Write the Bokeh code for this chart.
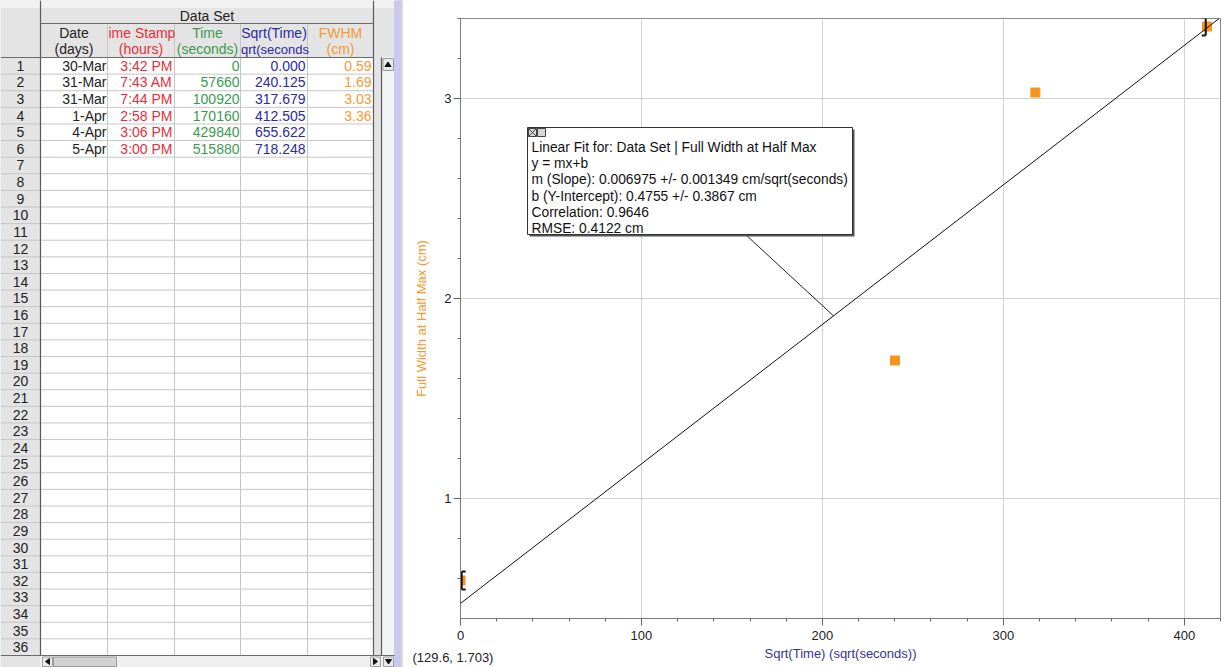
from bokeh.plotting import figure
from bokeh.layouts import row
from bokeh.models import Range1d, SingleIntervalTicker, Slope, Label
from bokeh.core.properties import value
from bokeh.embed import file_html
from bokeh.resources import INLINE

# ---- data set ----
dates = ["30-Mar", "31-Mar", "31-Mar", "1-Apr", "4-Apr", "5-Apr"]
stamps = ["3:42 PM", "7:43 AM", "7:44 PM", "2:58 PM", "3:06 PM", "3:00 PM"]
times_s = [0, 57660, 100920, 170160, 429840, 515880]
sqrt_times = [0.000, 240.125, 317.679, 412.505, 655.622, 718.248]
fwhm_cm = [0.59, 1.69, 3.03, 3.36]

# ---- linear fit results ----
fit_slope, fit_slope_err = 0.006975, 0.001349
fit_intercept, fit_intercept_err = 0.4755, 0.3867
fit_corr, fit_rmse = 0.9646, 0.4122
cursor_xy = (129.6, 1.703)

n_rows = 36
FONT = value("Liberation Sans")
RED, GREEN, BLUE, ORANGE = "#e3303c", "#3c9a50", "#2b2b9c", "#f29b35"

# =================== spreadsheet panel ===================
TW, H = 403, 667
t = figure(width=TW, height=H, x_range=Range1d(0, TW), y_range=Range1d(H, 0),
           output_backend="svg", toolbar_location=None, min_border=0, frame_align=False,
           x_axis_location=None, y_axis_location=None, outline_line_color=None)
t.grid.grid_line_color = None
t.background_fill_color = "#e4e4e4"
t.border_fill_color = "#e4e4e4"

COLS = [40, 107, 174, 240, 307, 373]
ROW_TOP, ROW_BOT = 57, 655
RH = (ROW_BOT - ROW_TOP) / n_rows

# backgrounds
t.quad(left=[0], right=[394], top=[0], bottom=[7], color="#f1f1f1")
t.quad(left=[COLS[0]], right=[COLS[-1]], top=[ROW_TOP], bottom=[ROW_BOT], color="#ffffff")
t.quad(left=[381], right=[394], top=[ROW_TOP], bottom=[ROW_BOT], color="#f3f3f3")
t.quad(left=[382.5], right=[393], top=[58], bottom=[70], fill_color="#e9e9e9", line_color="#9a9a9a")
t.quad(left=[40], right=[394], top=[ROW_BOT], bottom=[H], color="#f0f0f0")
t.quad(left=[42], right=[52], top=[656.5], bottom=[666], fill_color="#e9e9e9", line_color="#a0a0a0")
t.quad(left=[53], right=[116], top=[656.5], bottom=[666], fill_color="#d2d2d2", line_color="#9a9a9a")
t.quad(left=[370], right=[380], top=[656.5], bottom=[666], fill_color="#e9e9e9", line_color="#a0a0a0")
t.quad(left=[383], right=[393], top=[656.5], bottom=[666], fill_color="#e9e9e9", line_color="#a0a0a0")
t.quad(left=[394], right=[401], top=[0], bottom=[H], color="#c9c9f0")
t.quad(left=[401], right=[403], top=[0], bottom=[H], color="#dadada")

# scroll arrows
t.patches(xs=[[384.5, 390.5, 387.5], [49, 45, 49], [373, 377, 373], [385, 391, 388]],
          ys=[[66, 66, 61.5], [658, 661, 664], [658, 661, 664], [659, 659, 663.5]],
          color="#111111")

# grid of cells
row_ys = [ROW_TOP + RH * k for k in range(1, n_rows)]
t.segment(x0=[0] * len(row_ys), x1=[COLS[-1]] * len(row_ys), y0=row_ys, y1=row_ys,
          line_color="#c6c6c6", line_width=1)
t.segment(x0=COLS[1:-1], x1=COLS[1:-1], y0=[23] * 4, y1=[ROW_BOT] * 4,
          line_color="#c6c6c6", line_width=1)
t.segment(x0=[COLS[0], COLS[-1], 381], x1=[COLS[0], COLS[-1], 381],
          y0=[0, 0, ROW_TOP], y1=[ROW_BOT, ROW_BOT, ROW_BOT], line_color="#5a5a5a", line_width=1.2)
t.segment(x0=[COLS[0], 0, 0], x1=[COLS[-1], COLS[-1], 394], y0=[23, ROW_TOP, ROW_BOT],
          y1=[23, ROW_TOP, ROW_BOT], line_color="#6a6a6a", line_width=1)

# header texts
t.text(x=[206.5], y=[15], text=["Data Set"], text_font=FONT, text_font_size="14px",
       text_color="#222222", text_align="center", text_baseline="middle")
t.text(x=[73.5, 207, 340], y=[32] * 3, text=["Date", "Time", "FWHM"], text_font=FONT,
       text_font_size="14px", text_color=["#222222", GREEN, ORANGE],
       text_align="center", text_baseline="middle")
t.text(x=[73.5, 140.5, 207, 340], y=[48.5] * 4, text=["(days)", "(hours)", "(seconds)", "(cm)"],
       text_font=FONT, text_font_size="14px", text_color=["#222222", RED, GREEN, ORANGE],
       text_align="center", text_baseline="middle")
t.text(x=[273.5], y=[32], text=["Sqrt(Time)"], text_font=FONT, text_font_size="14px",
       text_color=BLUE, text_align="center", text_baseline="middle")
t.text(x=[108], y=[32], text=["ime Stamp"], text_font=FONT, text_font_size="14px",
       text_color=RED, text_align="left", text_baseline="middle")
t.text(x=[240.5], y=[48.5], text=["qrt(seconds"], text_font=FONT, text_font_size="13px",
       text_color=BLUE, text_align="left", text_baseline="middle")

# row numbers
t.text(x=[20] * n_rows, y=[ROW_TOP + RH * (k + 0.5) for k in range(n_rows)],
       text=[str(k + 1) for k in range(n_rows)], text_font=FONT, text_font_size="14px",
       text_color="#222222", text_align="center", text_baseline="middle")

# cell values
def cell_col(values, right, color):
    ys = [ROW_TOP + RH * (k + 0.5) for k in range(len(values))]
    t.text(x=[right] * len(values), y=ys, text=values, text_font=FONT, text_font_size="14px",
           text_color=color, text_align="right", text_baseline="middle")

cell_col(dates, 106, "#222222")
cell_col(stamps, 172, RED)
cell_col([str(v) for v in times_s], 239, GREEN)
cell_col([f"{v:.3f}" for v in sqrt_times], 305, BLUE)
cell_col([f"{v:.2f}" for v in fwhm_cm], 371, ORANGE)

# =================== graph panel ===================
PW = 1225 - TW
FR_L, FR_T = 460 - TW, 18          # frame origin inside the panel
FW, FH = 760, 600
X0, X1, Y0, Y1 = 0, 420, 0.4, 3.4

def xd(px):
    return X0 + (px - TW - FR_L) / FW * (X1 - X0)

def yd(py):
    return Y1 - (py - FR_T) / FH * (Y1 - Y0)

p = figure(width=PW, height=H, x_range=Range1d(X0, X1), y_range=Range1d(Y0, Y1),
           output_backend="svg", toolbar_location=None, frame_align=False,
           min_border_left=FR_L, min_border_right=PW - FR_L - FW,
           min_border_top=FR_T, min_border_bottom=H - FR_T - FH)
p.outline_line_color = "#8a8a8a"
p.background_fill_color = "#ffffff"
p.border_fill_color = "#ffffff"

p.xaxis.ticker = SingleIntervalTicker(interval=100, num_minor_ticks=5)
p.yaxis.ticker = SingleIntervalTicker(interval=1, num_minor_ticks=5)
for ax in (p.xaxis[0], p.yaxis[0]):
    ax.axis_line_color = "#7a7a7a"
    ax.major_tick_line_color = "#666666"
    ax.minor_tick_line_color = "#666666"
    ax.major_tick_in = 0
    ax.minor_tick_in = 0
    ax.major_tick_out = 7
    ax.minor_tick_out = 3
    ax.major_label_text_font = "Liberation Sans"
    ax.major_label_text_font_size = "13px"
    ax.major_label_text_color = "#222222"
    ax.axis_label_text_font = "Liberation Sans"
    ax.axis_label_text_font_size = "13px"
    ax.axis_label_text_font_style = "normal"

p.xaxis.axis_label = "Sqrt(Time) (sqrt(seconds))"
p.xaxis.axis_label_text_color = "#33339a"
p.xaxis.major_label_standoff = 5
p.xaxis.axis_label_standoff = 3
p.yaxis.axis_label = "Full Width at Half Max (cm)"
p.yaxis.axis_label_text_color = ORANGE
p.yaxis.major_label_standoff = 2
p.yaxis.axis_label_standoff = 12

p.xgrid.grid_line_color = "#d2d2d2"
p.ygrid.grid_line_color = "#d2d2d2"

# measured points
xs = sqrt_times[:len(fwhm_cm)]
p.scatter(xs, fwhm_cm, marker="square", size=9, fill_color="#f7941d", line_color="#f7941d")

# fit range brackets at first and last point
dx1 = (X1 - X0) / FW
dy1 = (Y1 - Y0) / FH
half = 9 * dy1
bx = [xs[0] + 1.2 * dx1, xs[-1] - 1.2 * dx1]
serif = [4 * dx1, -4 * dx1]
by = [fwhm_cm[0], fwhm_cm[-1]]
p.segment(x0=bx, x1=bx, y0=[v - half for v in by], y1=[v + half for v in by],
          line_color="#111111", line_width=2)
p.segment(x0=bx * 2, x1=[b + s for b, s in zip(bx, serif)] * 2,
          y0=[v - half for v in by] + [v + half for v in by],
          y1=[v - half for v in by] + [v + half for v in by],
          line_color="#111111", line_width=2)

# fitted line
p.add_layout(Slope(gradient=fit_slope, y_intercept=fit_intercept,
                   line_color="#111111", line_width=1))

# fit result callout
bl, br, bt, bb = xd(527), xd(852), yd(127), yd(234)
lx = xd(833)
p.segment(x0=[xd(745)], y0=[bb], x1=[lx], y1=[fit_slope * lx + fit_intercept],
          line_color="#222222", line_width=1)
p.quad(left=[bl + 2 * dx1], right=[br + 2 * dx1], top=[bt - 2 * dy1], bottom=[bb - 2 * dy1],
       fill_color="#555555", line_color=None)
p.quad(left=[bl], right=[br], top=[bt], bottom=[bb], fill_color="#ffffff",
       line_color="#333333", line_width=1)
p.scatter([xd(532), xd(541)], [yd(132), yd(132)], marker=["square_x", "square"], size=8,
          fill_color="#d6d6d6", line_color="#444444", line_width=1)

fit_lines = [
    "Linear Fit for: Data Set | Full Width at Half Max",
    "y = mx+b",
    f"m (Slope): {fit_slope} +/- {fit_slope_err} cm/sqrt(seconds)",
    f"b (Y-Intercept): {fit_intercept} +/- {fit_intercept_err} cm",
    f"Correlation: {fit_corr}",
    f"RMSE: {fit_rmse} cm",
]
p.text(x=[xd(531)] * len(fit_lines), y=[yd(147 + 16.2 * k) for k in range(len(fit_lines))],
       text=fit_lines, text_font=FONT, text_font_size="13.8px", text_color="#111111",
       text_align="left", text_baseline="middle")

# cursor readout, kept in the top margin panel so it is not clipped by the frame
cursor = Label(x=412 - 460, y=-(657 - FR_T), x_units="screen", y_units="screen",
               text=f"({cursor_xy[0]}, {cursor_xy[1]})",
               text_font="Liberation Sans", text_font_size="13px", text_color="#222222",
               text_align="left", text_baseline="middle")
p.add_layout(cursor, "above")

layout = row(t, p, spacing=0)
open("out.html", "w").write(file_html(layout, INLINE))
